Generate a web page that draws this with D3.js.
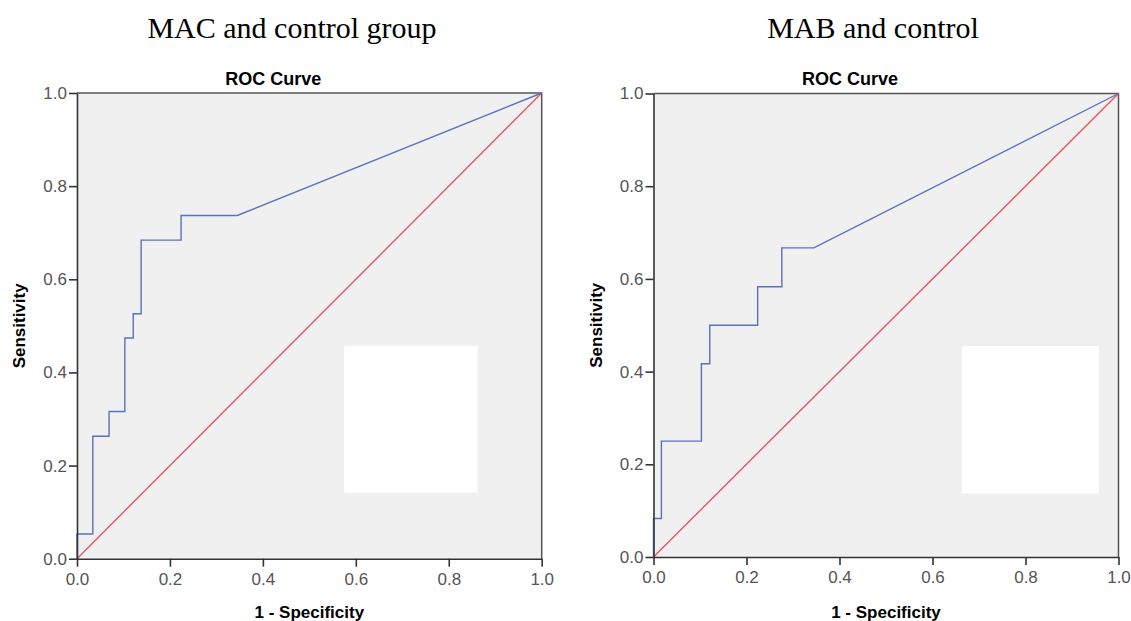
<!DOCTYPE html>
<html>
<head>
<meta charset="utf-8">
<script src="https://cdn.jsdelivr.net/npm/d3@7"></script>
<style>
  body { margin: 0; background: #fff; }
  svg { display: block; }
</style>
</head>
<body>
<svg id="chart" width="1131" height="621"></svg>
<script>
// ROC points: 1 - specificity (x) and sensitivity (y)
var macFpr = [0, 0, 0.034, 0.034, 0.069, 0.069, 0.103, 0.103, 0.121, 0.121, 0.138, 0.138, 0.224, 0.224, 0.345, 1.0];
var macTpr = [0, 0.053, 0.053, 0.263, 0.263, 0.316, 0.316, 0.474, 0.474, 0.526, 0.526, 0.684, 0.684, 0.737, 0.737, 1.0];

var mabFpr = [0, 0, 0.017, 0.017, 0.103, 0.103, 0.121, 0.121, 0.224, 0.224, 0.276, 0.276, 0.345, 1.0];
var mabTpr = [0, 0.083, 0.083, 0.25, 0.25, 0.417, 0.417, 0.5, 0.5, 0.583, 0.583, 0.667, 0.667, 1.0];

var refLine = [0, 1];
var tickValues = [0, 0.2, 0.4, 0.6, 0.8, 1.0];
var panelTitles = ["MAC and control group", "MAB and control"];

var svg = d3.select("#chart");

function zip(xs, ys){
  return xs.map(function(x, i){ return [x, ys[i]]; });
}

// each panel: plot box in pixels, plus the blanked legend area (in data units)
var panels = [
  {title: panelTitles[0], left: 77, right: 541.7, top: 93, bottom: 558.7,
   pts: zip(macFpr, macTpr), mask: [0.575, 0.862, 0.142, 0.457], titleX: 292},
  {title: panelTitles[1], left: 653.5, right: 1118.5, top: 93.5, bottom: 557,
   pts: zip(mabFpr, mabTpr), mask: [0.663, 0.958, 0.137, 0.455], titleX: 873}
];

panels.forEach(function(p){
  var x = d3.scaleLinear().domain([0, 1]).range([p.left, p.right]);
  var y = d3.scaleLinear().domain([0, 1]).range([p.bottom, p.top]);
  var g = svg.append("g");

  g.append("text")
    .attr("x", p.titleX).attr("y", 38)
    .attr("text-anchor", "middle")
    .style("font-family", "'Liberation Serif', 'Times New Roman', serif")
    .style("font-size", "30px")
    .style("fill", "#000")
    .text(p.title);

  g.append("text")
    .attr("x", (p.left + p.right) / 2 - 36).attr("y", 85)
    .attr("text-anchor", "middle")
    .style("font-family", "'Liberation Sans', Arial, sans-serif")
    .style("font-size", "18px")
    .style("font-weight", "bold")
    .text("ROC Curve");

  g.append("rect")
    .attr("x", x(0)).attr("y", y(1))
    .attr("width", x(1) - x(0)).attr("height", y(0) - y(1))
    .style("fill", "#f0f0f0");

  // blank legend area
  g.append("rect")
    .attr("x", x(p.mask[0])).attr("y", y(p.mask[3]))
    .attr("width", x(p.mask[1]) - x(p.mask[0]))
    .attr("height", y(p.mask[2]) - y(p.mask[3]))
    .style("fill", "#fff");

  // top / right frame
  g.append("path")
    .attr("d", "M" + x(0) + "," + y(1) + "H" + x(1) + "V" + y(0))
    .style("fill", "none")
    .style("stroke", "#555")
    .style("stroke-width", 1.5);

  var line = d3.line().x(function(d){ return x(d[0]); }).y(function(d){ return y(d[1]); });

  g.append("path")
    .datum(zip(refLine, refLine))
    .attr("d", line)
    .style("fill", "none")
    .style("stroke", "#e8585a")
    .style("stroke-width", 1.4);

  g.append("path")
    .datum(p.pts)
    .attr("d", line)
    .style("fill", "none")
    .style("stroke", "#5b70bf")
    .style("stroke-width", 1.4);

  var fmt = d3.format(".1f");
  var xAxis = g.append("g")
    .attr("transform", "translate(0," + y(0) + ")")
    .call(d3.axisBottom(x).tickValues(tickValues).tickFormat(fmt).tickSize(8).tickSizeOuter(0).tickPadding(6));
  var yAxis = g.append("g")
    .attr("transform", "translate(" + x(0) + ",0)")
    .call(d3.axisLeft(y).tickValues(tickValues).tickFormat(fmt).tickSize(8).tickSizeOuter(0).tickPadding(2));

  [xAxis, yAxis].forEach(function(a){
    a.select(".domain").style("stroke", "#333").style("stroke-width", 1.6);
    a.selectAll(".tick line").style("stroke", "#333").style("stroke-width", 1.6);
    a.selectAll(".tick text")
      .style("font-family", "'Liberation Sans', Arial, sans-serif")
      .style("font-size", "17px")
      .style("fill", "#555");
  });

  g.append("text")
    .attr("x", (p.left + p.right) / 2).attr("y", 618)
    .attr("text-anchor", "middle")
    .style("font-family", "'Liberation Sans', Arial, sans-serif")
    .style("font-size", "17px")
    .style("font-weight", "bold")
    .text("1 - Specificity");

  g.append("text")
    .attr("transform", "translate(" + (p.left - 52) + "," + ((p.top + p.bottom) / 2) + ") rotate(-90)")
    .attr("text-anchor", "middle")
    .style("font-family", "'Liberation Sans', Arial, sans-serif")
    .style("font-size", "17px")
    .style("font-weight", "bold")
    .text("Sensitivity");
});
</script>
</body>
</html>
